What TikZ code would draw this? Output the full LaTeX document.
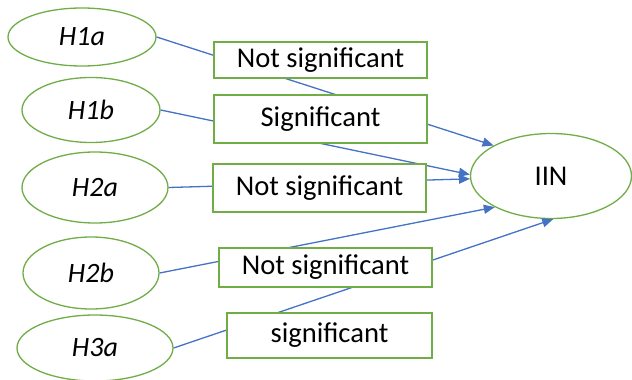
\documentclass[tikz,border=0pt]{standalone}
\usepackage{fontspec}
\setmainfont{Carlito}
\usepackage{tikz}
\usetikzlibrary{arrows.meta,shapes.geometric}
\definecolor{HypGreen}{RGB}{112,173,71}
\definecolor{LinkBlue}{RGB}{68,114,196}

\begin{document}
\begin{tikzpicture}[x=1pt,y=-1pt,
        hyp/.style={ellipse, draw=HypGreen, line width=1.3pt, fill=white, inner sep=0pt, font=\fontsize{28}{32}\selectfont\itshape},
        res/.style={rectangle, draw=HypGreen, line width=1.4pt, fill=white, inner sep=0pt, font=\fontsize{28.6}{34}\selectfont},
        link/.style={-{Triangle[length=11pt,width=9pt]}, line width=1.3pt, draw=LinkBlue}
      ]
        \useasboundingbox (0,0) rectangle (632,380);
        \node[hyp, minimum width=148, minimum height=58] (h1a) at (82,37) {H1a};
        \node[hyp, minimum width=138, minimum height=65] (h1b) at (91,110) {H1b};
        \node[hyp, minimum width=146, minimum height=71] (h2a) at (95,187.5) {H2a};
        \node[hyp, minimum width=136, minimum height=72] (h2b) at (91,273) {H2b};
        \node[hyp, minimum width=156, minimum height=66] (h3a) at (95,348) {H3a};
        \node[hyp, font=\fontsize{28.6}{34}\selectfont, minimum width=161, minimum height=85] (iin) at (551,176) {IIN};
        \draw[link] (h1a.east) -- (iin.152); \draw[link] (h1b.east) -- (iin.179); \draw[link] (h2a.east) -- (iin.182);
        \draw[link] (h2b.east) -- (iin.209); \draw[link] (h3a.east) -- (iin.273);
        \node[res, minimum width=213, minimum height=36] (r1a) at (320.5,60) {Not significant};
        \node[res, minimum width=213, minimum height=48] (r1b) at (320.5,119) {Significant};
        \node[res, minimum width=213, minimum height=48] (r2a) at (319.5,188) {Not significant};
        \node[res, minimum width=213, minimum height=39] (r2b) at (325.5,267.5) {Not significant};
        \node[res, minimum width=205, minimum height=45] (r3a) at (329.5,335.5) {significant};
      \end{tikzpicture}
\end{document}
